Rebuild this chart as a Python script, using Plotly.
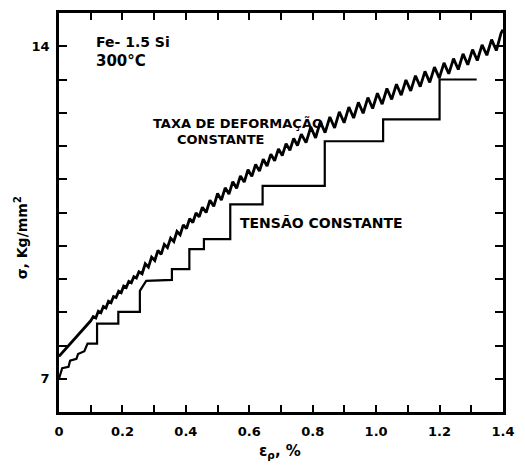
import plotly.graph_objects as go

# --- Data ---
# Constant strain-rate curve (serrated): strain (%) and stress (kg/mm^2)
rate_x = [0.000, 0.100,
          0.108, 0.116, 0.124, 0.132, 0.140, 0.148, 0.156, 0.164, 0.172, 0.180,
          0.188, 0.196, 0.204, 0.212, 0.220, 0.228, 0.236, 0.244, 0.252,
          0.262, 0.272, 0.282, 0.292, 0.302, 0.312, 0.322, 0.332, 0.342, 0.352,
          0.362, 0.372, 0.382, 0.392, 0.402, 0.412, 0.422, 0.432, 0.442, 0.452,
          0.464, 0.476, 0.488, 0.500, 0.512, 0.524, 0.536, 0.548, 0.560, 0.572,
          0.584, 0.596, 0.608, 0.620, 0.632, 0.644, 0.656, 0.668, 0.680, 0.692,
          0.704, 0.716, 0.728, 0.740, 0.752, 0.764,
          0.779, 0.794, 0.809, 0.824, 0.839, 0.854, 0.869, 0.884, 0.899, 0.914,
          0.929, 0.944, 0.959, 0.974, 0.989, 1.004, 1.019, 1.034, 1.049, 1.064,
          1.079, 1.094, 1.109, 1.124, 1.139, 1.154, 1.169, 1.184, 1.199, 1.214,
          1.229, 1.244, 1.259, 1.274, 1.289, 1.304, 1.319, 1.334, 1.349, 1.364,
          1.379, 1.394, 1.400]
rate_y = [7.47, 8.22,
          8.31, 8.28, 8.42, 8.39, 8.52, 8.49, 8.63, 8.60, 8.73, 8.71,
          8.84, 8.81, 8.95, 8.92, 9.05, 9.02, 9.15, 9.12, 9.25,
          9.21, 9.42, 9.35, 9.56, 9.49, 9.70, 9.62, 9.83, 9.76, 9.96,
          9.89, 10.10, 10.03, 10.24, 10.16, 10.37, 10.29, 10.49, 10.41, 10.61,
          10.50, 10.76, 10.63, 10.90, 10.76, 11.02, 10.89, 11.15, 11.01, 11.27,
          11.14, 11.40, 11.26, 11.51, 11.37, 11.62, 11.48, 11.73, 11.59, 11.84,
          11.70, 11.95, 11.81, 12.06, 11.91, 12.15,
          11.97, 12.30, 12.07, 12.41, 12.18, 12.51, 12.28, 12.62, 12.39, 12.72,
          12.49, 12.82, 12.59, 12.92, 12.69, 13.01, 12.78, 13.11, 12.88, 13.20,
          12.97, 13.29, 13.06, 13.38, 13.15, 13.47, 13.24, 13.56, 13.33, 13.65,
          13.42, 13.74, 13.51, 13.84, 13.61, 13.93, 13.70, 14.03, 13.81, 14.14,
          13.91, 14.28, 14.35]

# Constant stress curve (staircase)
stress_x = [0.000, 0.010, 0.030, 0.035, 0.055, 0.060, 0.080, 0.090, 0.120, 0.120,
            0.187, 0.187, 0.255, 0.255, 0.275, 0.356, 0.356, 0.411, 0.411, 0.457,
            0.457, 0.540, 0.540, 0.642, 0.642, 0.838, 0.838, 1.022, 1.022, 1.200,
            1.200, 1.317]
stress_y = [7.00, 7.22, 7.25, 7.38, 7.42, 7.52, 7.58, 7.74, 7.74, 8.16,
            8.16, 8.41, 8.41, 8.85, 9.06, 9.08, 9.31, 9.31, 9.73, 9.73,
            9.94, 9.94, 10.67, 10.67, 11.06, 11.06, 12.00, 12.00, 12.46, 12.46,
            13.30, 13.30]

x_ticks = [0.0, 0.1, 0.2, 0.3, 0.4, 0.5, 0.6, 0.7, 0.8, 0.9, 1.0, 1.1, 1.2, 1.3, 1.4]
x_labels = ["0", "", "0.2", "", "0.4", "", "0.6", "", "0.8", "", "1.0", "", "1.2", "", "1.4"]
y_ticks = [7.0, 7.7, 8.4, 9.1, 9.8, 10.5, 11.2, 11.9, 12.6, 13.3, 14.0]
y_labels = ["7", "", "", "", "", "", "", "", "", "", "14"]

FONT = "DejaVu Sans"

fig = go.Figure()
fig.add_trace(go.Scatter(x=rate_x, y=rate_y, mode="lines",
                         line=dict(color="black", width=2.8), showlegend=False))
fig.add_trace(go.Scatter(x=stress_x, y=stress_y, mode="lines",
                         line=dict(color="black", width=2.2), showlegend=False))

axis_common = dict(showline=True, linecolor="black", linewidth=2.5, mirror="ticks",
                   ticks="inside", tickcolor="black", tickwidth=2, showgrid=False,
                   zeroline=False,
                   tickfont=dict(family=FONT, size=13, color="black", weight="bold"))

fig.update_xaxes(range=[0, 1.4], tickvals=x_ticks, ticktext=x_labels, ticklen=7,
                 ticklabelstandoff=6, **axis_common)
fig.update_yaxes(range=[6.3, 14.7], tickvals=y_ticks, ticktext=y_labels, ticklen=8,
                 ticklabelstandoff=4, **axis_common)

def ann_font(size):
    return dict(family=FONT, size=size, color="black", weight="bold")

annotations = [
    dict(x=0.11, y=14.08, text="Fe- 1.5 Si", size=14),
    dict(x=0.11, y=13.68, text="300°C", size=15),
    dict(x=0.29, y=12.38, text="TAXA DE DEFORMAÇÃO", size=13),
    dict(x=0.365, y=12.04, text="CONSTANTE", size=13),
    dict(x=0.565, y=10.27, text="TENSÃO CONSTANTE", size=14),
]
for a in annotations:
    fig.add_annotation(xref="x", yref="y", showarrow=False, xanchor="left",
                       yanchor="middle", x=a["x"], y=a["y"], text=a["text"],
                       font=ann_font(a["size"]))

fig.add_annotation(xref="paper", yref="paper", x=(286 - 59) / 456, y=(412 - 452) / 402,
                   text="ε<sub>ρ</sub>, %", showarrow=False, xanchor="center",
                   yanchor="middle", font=ann_font(15))
fig.add_annotation(xref="paper", yref="paper", x=(20 - 59) / 456, y=(412 - 237) / 402,
                   text="σ, Kg/mm<sup>2</sup>", showarrow=False, textangle=-90,
                   xanchor="center", yanchor="middle", font=ann_font(14))

fig.update_layout(width=525, height=469, margin=dict(l=59, r=10, t=10, b=57),
                  paper_bgcolor="white", plot_bgcolor="white")

fig.write_html("out.html")
